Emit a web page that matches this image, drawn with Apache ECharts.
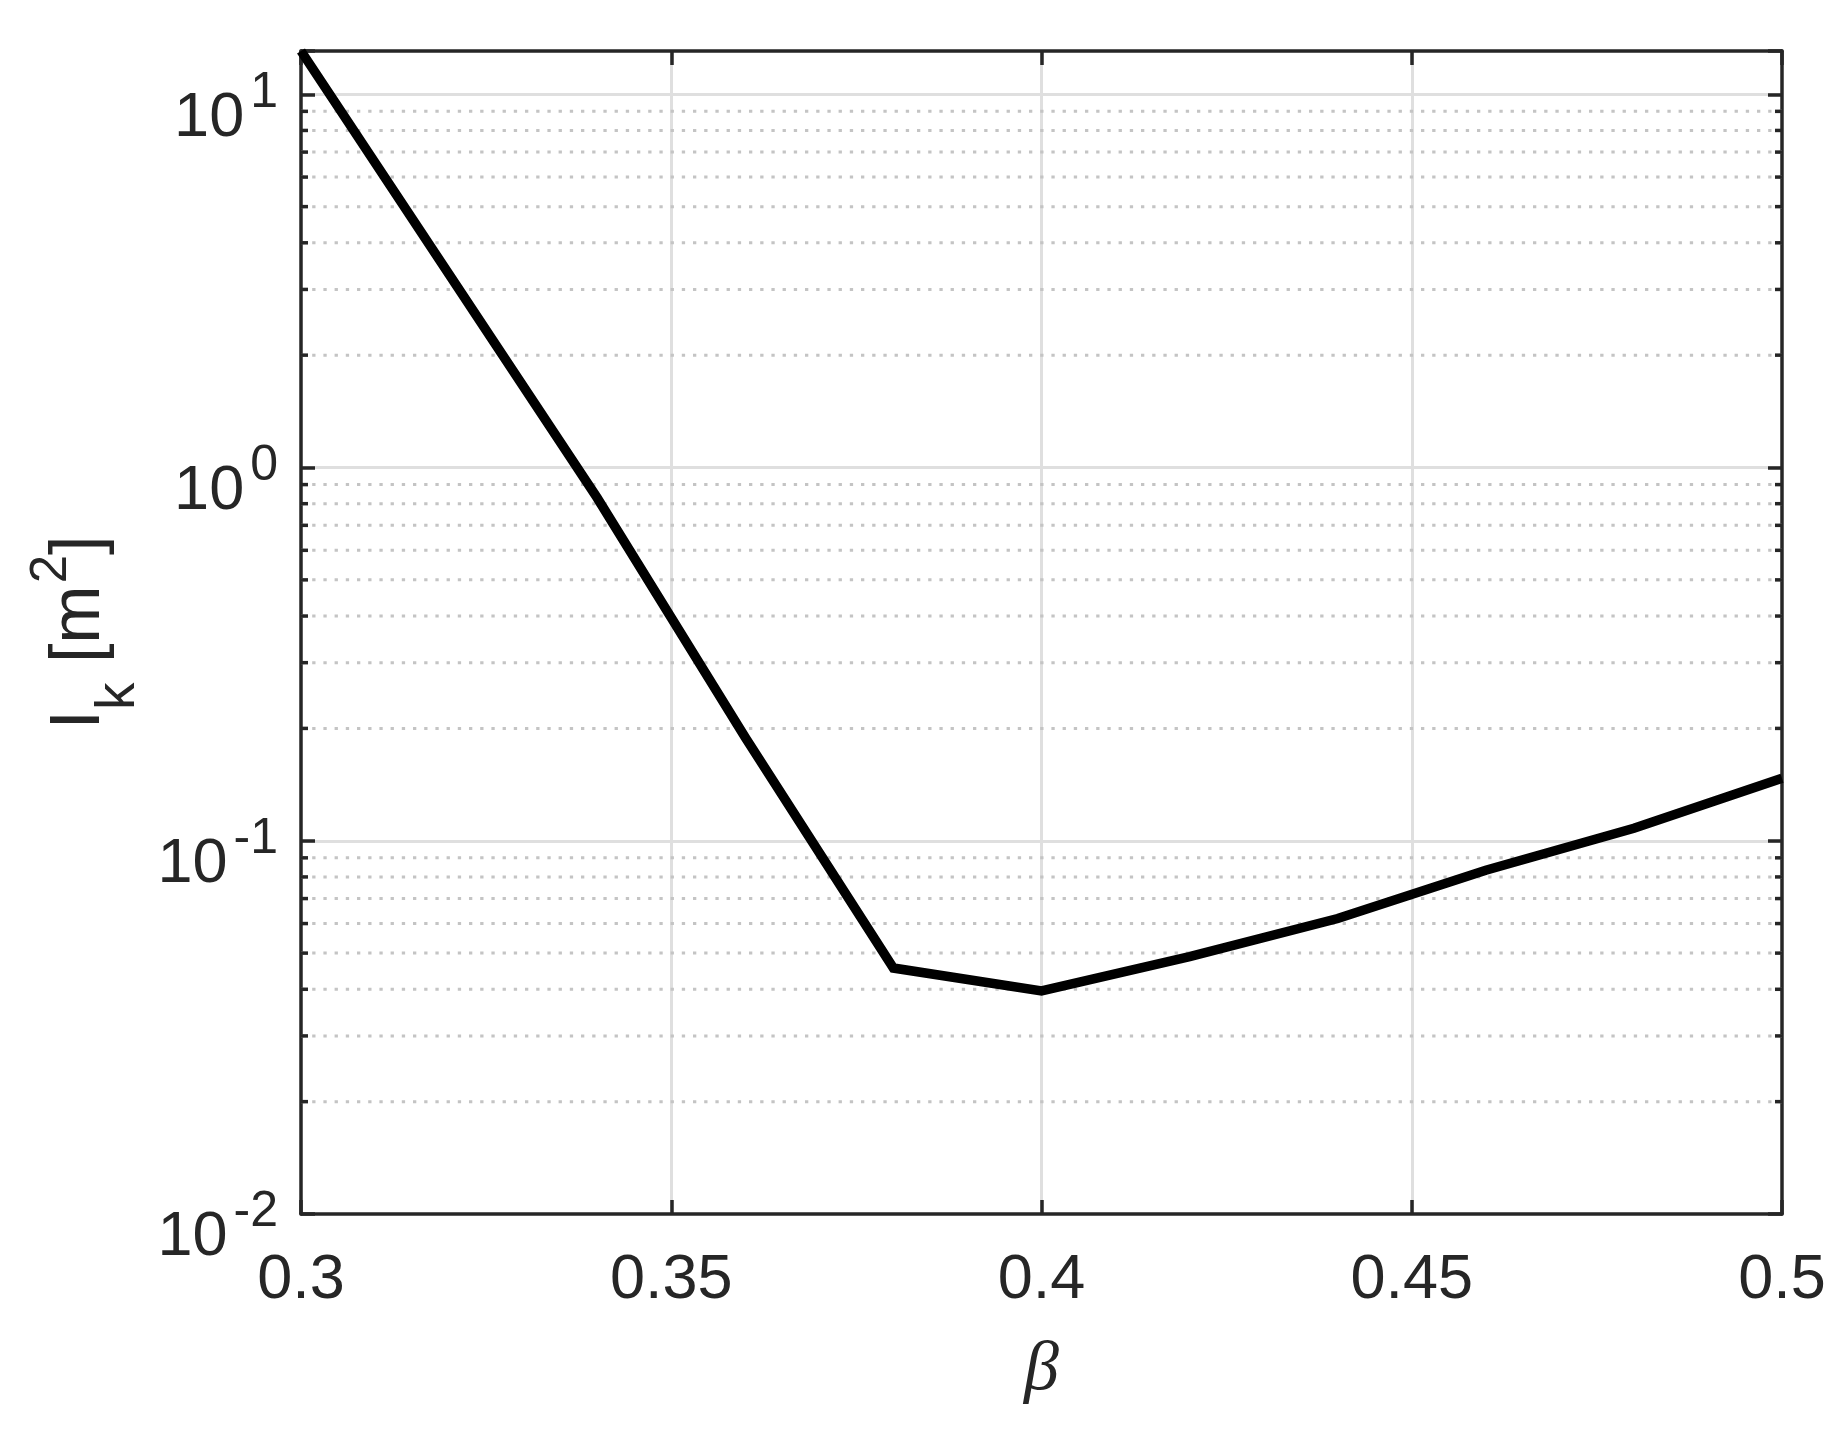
<!DOCTYPE html>
<html><head><meta charset="utf-8">
<script src="https://cdn.jsdelivr.net/npm/echarts@6/dist/echarts.min.js"></script>
<style>html,body{margin:0;padding:0;background:#fff}#c{width:1840px;height:1430px}</style>
</head><body><div id="c"></div>
<script>
// ---- data ----
const beta = [0.30, 0.32, 0.34, 0.36, 0.38, 0.40, 0.42, 0.44, 0.46, 0.48, 0.50];
const Ik   = [13.06, 3.29, 0.829, 0.189, 0.0456, 0.0396, 0.0489, 0.0619, 0.0834, 0.108, 0.147];
const xTickValues = [0.3, 0.35, 0.4, 0.45, 0.5];
const xTickLabels = ['0.3', '0.35', '0.4', '0.45', '0.5'];
const yTickExponents = [-2, -1, 0, 1];
const yMinorValues = [0.02,0.03,0.04,0.05,0.06,0.07,0.08,0.09,
                      0.2,0.3,0.4,0.5,0.6,0.7,0.8,0.9,
                      2,3,4,5,6,7,8,9];
const xMin = 0.3, xMax = 0.5, xStep = 0.05;
const yMin = 0.01, yMax = 13.06;

// ---- styles ----
const INK = '#262626';
const AXW = 3.5;
const FONT = '"Liberation Sans", Arial, Helvetica, sans-serif';

const chart = echarts.init(document.getElementById('c'), null, {renderer: 'canvas'});

function xLabel(v) {
  for (let i = 0; i < xTickValues.length; i++) {
    if (Math.abs(xTickValues[i] - v) < 1e-9) return xTickLabels[i];
  }
  return '';
}
function yLabel(v) {
  const l = Math.log10(v);
  const e = Math.round(l);
  if (Math.abs(l - e) > 1e-6 || yTickExponents.indexOf(e) < 0) return '';
  return '{a|10}{b|' + e + '}';
}

const option = {
  animation: false,
  backgroundColor: '#ffffff',
  grid: {left: 301, right: 58, top: 51, bottom: 216, containLabel: false},
  xAxis: [{
    type: 'value', min: xMin, max: xMax, interval: xStep, position: 'bottom',
    name: 'β', nameLocation: 'middle', nameGap: 122,
    nameTextStyle: {fontFamily: '"Liberation Serif", "DejaVu Serif", serif', fontStyle: 'italic', fontSize: 70, lineHeight: 70, color: INK},
    axisLine: {show: true, onZero: false, lineStyle: {color: INK, width: AXW}},
    axisTick: {show: true, inside: true, length: 14, lineStyle: {color: INK, width: AXW}},
    axisLabel: {show: true, margin: 35, fontFamily: FONT, fontSize: 63, lineHeight: 63, color: INK, formatter: xLabel},
    splitLine: {show: true, showMinLine: false, showMaxLine: false, lineStyle: {color: '#dfdfdf', width: 3}}
  }, {
    type: 'value', min: xMin, max: xMax, interval: xStep, position: 'top',
    axisLine: {show: true, onZero: false, lineStyle: {color: INK, width: AXW}},
    axisTick: {show: true, inside: true, length: 14, lineStyle: {color: INK, width: AXW}},
    axisLabel: {show: false},
    splitLine: {show: false}
  }],
  yAxis: [{
    type: 'log', logBase: 10, min: yMin, max: yMax, position: 'left',
    name: '{m|I}{k|k}{m| [m}{s|2}{m|]}', nameLocation: 'middle', nameGap: 163, nameRotate: 90,
    nameTextStyle: {
      color: INK, fontFamily: FONT,
      rich: {
        m: {fontFamily: FONT, fontSize: 70, lineHeight: 70, color: INK, verticalAlign: 'top', padding: [18, 0, 0, 0]},
        k: {fontFamily: FONT, fontSize: 55, lineHeight: 55, color: INK, verticalAlign: 'top', padding: [65, 0, 0, 0]},
        s: {fontFamily: FONT, fontSize: 51, lineHeight: 51, color: INK, verticalAlign: 'top', padding: [0, 0, 0, 2]}
      }
    },
    axisLine: {show: true, onZero: false, lineStyle: {color: INK, width: AXW}},
    axisTick: {show: true, inside: true, length: 14, lineStyle: {color: INK, width: AXW}},
    axisLabel: {
      show: true, margin: 23, formatter: yLabel,
      rich: {
        a: {fontFamily: FONT, fontSize: 63, lineHeight: 63, color: INK, verticalAlign: 'top', padding: [24, 0, 0, 0]},
        b: {fontFamily: FONT, fontSize: 50, lineHeight: 50, color: INK, verticalAlign: 'top', padding: [5, 0, 0, 6]}
      }
    },
    splitLine: {show: true, showMinLine: false, showMaxLine: false, lineStyle: {color: '#dfdfdf', width: 3}}
  }, {
    type: 'log', logBase: 10, min: yMin, max: yMax, position: 'right',
    axisLine: {show: true, onZero: false, lineStyle: {color: INK, width: AXW}},
    axisTick: {show: true, inside: true, length: 14, lineStyle: {color: INK, width: AXW}},
    axisLabel: {show: false},
    splitLine: {show: false}
  }],
  series: [{
    // minor log grid lines (dotted) and minor ticks on both sides
    type: 'custom', xAxisIndex: 0, yAxisIndex: 0, z: 1, silent: true,
    data: yMinorValues.map(v => [xMin, v]),
    renderItem: function (params, api) {
      const y = api.coord([api.value(0), api.value(1)])[1];
      const cs = params.coordSys;
      const x0 = cs.x, x1 = cs.x + cs.width;
      return {type: 'group', children: [
        {type: 'line', shape: {x1: x0, y1: y, x2: x1, y2: y},
         style: {stroke: '#c4c4c4', lineWidth: 3, lineDash: [3.3, 7.9], lineCap: 'butt'}},
        {type: 'line', shape: {x1: x0, y1: y, x2: x0 + 7, y2: y}, style: {stroke: INK, lineWidth: AXW}},
        {type: 'line', shape: {x1: x1 - 7, y1: y, x2: x1, y2: y}, style: {stroke: INK, lineWidth: AXW}}
      ]};
    }
  }, {
    type: 'line', xAxisIndex: 0, yAxisIndex: 0, z: 5,
    data: beta.map((b, i) => [b, Ik[i]]),
    symbol: 'none', smooth: false,
    lineStyle: {color: '#000000', width: 9.5, join: 'miter'}
  }]
};
chart.setOption(option);
</script>
</body></html>
